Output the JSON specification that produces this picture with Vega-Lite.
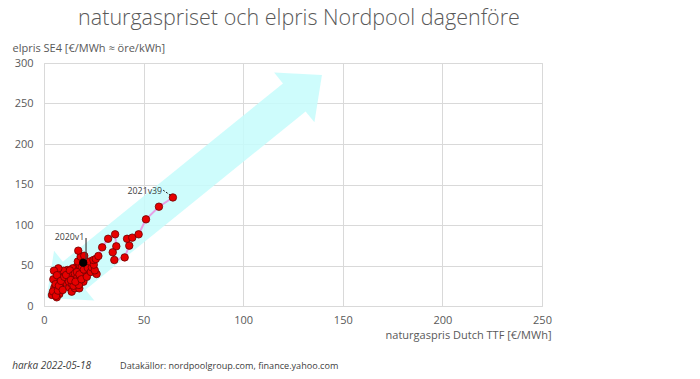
{
  "$schema": "https://vega.github.io/schema/vega-lite/v6.json",
  "width": 498,
  "height": 243,
  "autosize": {"type": "none"},
  "padding": {"left": 44, "top": 63, "right": 158, "bottom": 73},
  "background": "white",
  "title": {
    "text": "naturgaspriset och elpris Nordpool dagenföre",
    "font": "Open Sans",
    "fontWeight": 300,
    "fontSize": 21.5,
    "color": "#595959",
    "anchor": "middle",
    "frame": "group",
    "dx": 6,
    "offset": 13
  },
  "datasets": {
    "pts": [
      {"i": 1, "week": "2020v1", "gas": 19.7, "el": 53.5},
      {"i": 2, "week": "2020v2", "gas": 18.4, "el": 45},
      {"i": 3, "week": "2020v3", "gas": 17.5, "el": 40},
      {"i": 4, "week": "2020v4", "gas": 16.4, "el": 48.5},
      {"i": 5, "week": "2020v5", "gas": 14.4, "el": 46.5},
      {"i": 6, "week": "2020v6", "gas": 13.5, "el": 36},
      {"i": 7, "week": "2020v7", "gas": 12.2, "el": 35.4},
      {"i": 8, "week": "2020v8", "gas": 11.7, "el": 44.4},
      {"i": 9, "week": "2020v9", "gas": 10.5, "el": 28.8},
      {"i": 10, "week": "2020v10", "gas": 9.7, "el": 43.6},
      {"i": 11, "week": "2020v11", "gas": 8.9, "el": 35.4},
      {"i": 12, "week": "2020v12", "gas": 8.0, "el": 24.7},
      {"i": 13, "week": "2020v13", "gas": 7.2, "el": 30},
      {"i": 14, "week": "2020v14", "gas": 6.8, "el": 20},
      {"i": 15, "week": "2020v15", "gas": 7.7, "el": 14.8},
      {"i": 16, "week": "2020v16", "gas": 6.4, "el": 10.7},
      {"i": 17, "week": "2020v17", "gas": 5.5, "el": 16},
      {"i": 18, "week": "2020v18", "gas": 4.0, "el": 13.6},
      {"i": 19, "week": "2020v19", "gas": 5.2, "el": 22.6},
      {"i": 20, "week": "2020v20", "gas": 4.5, "el": 18},
      {"i": 21, "week": "2020v21", "gas": 4.7, "el": 32.9},
      {"i": 22, "week": "2020v22", "gas": 5.8, "el": 27},
      {"i": 23, "week": "2020v23", "gas": 6.0, "el": 12.5},
      {"i": 24, "week": "2020v24", "gas": 7.0, "el": 19},
      {"i": 25, "week": "2020v25", "gas": 7.2, "el": 46.5},
      {"i": 26, "week": "2020v26", "gas": 5.0, "el": 43.6},
      {"i": 27, "week": "2020v27", "gas": 6.5, "el": 38},
      {"i": 28, "week": "2020v28", "gas": 7.5, "el": 25},
      {"i": 29, "week": "2020v29", "gas": 8.5, "el": 31},
      {"i": 30, "week": "2020v30", "gas": 9.4, "el": 19.8},
      {"i": 31, "week": "2020v31", "gas": 10.2, "el": 36},
      {"i": 32, "week": "2020v32", "gas": 11.1, "el": 38.3},
      {"i": 33, "week": "2020v33", "gas": 12.7, "el": 23},
      {"i": 34, "week": "2020v34", "gas": 13.9, "el": 17.7},
      {"i": 35, "week": "2020v35", "gas": 12.5, "el": 30},
      {"i": 36, "week": "2020v36", "gas": 13.0, "el": 44},
      {"i": 37, "week": "2020v37", "gas": 14.5, "el": 38},
      {"i": 38, "week": "2020v38", "gas": 15.1, "el": 35.4},
      {"i": 39, "week": "2020v39", "gas": 14.0, "el": 27},
      {"i": 40, "week": "2020v40", "gas": 15.5, "el": 22},
      {"i": 41, "week": "2020v41", "gas": 16.4, "el": 27.2},
      {"i": 42, "week": "2020v42", "gas": 17.7, "el": 21.8},
      {"i": 43, "week": "2020v43", "gas": 16.0, "el": 31},
      {"i": 44, "week": "2020v44", "gas": 14.8, "el": 25},
      {"i": 45, "week": "2020v45", "gas": 13.5, "el": 32},
      {"i": 46, "week": "2020v46", "gas": 15.5, "el": 40},
      {"i": 47, "week": "2020v47", "gas": 16.8, "el": 36},
      {"i": 48, "week": "2020v48", "gas": 17.2, "el": 44},
      {"i": 49, "week": "2020v49", "gas": 18.4, "el": 35.4},
      {"i": 50, "week": "2020v50", "gas": 19.4, "el": 44.4},
      {"i": 51, "week": "2020v51", "gas": 18.0, "el": 50},
      {"i": 52, "week": "2020v52", "gas": 17.0, "el": 55},
      {"i": 53, "week": "2020v53", "gas": 18.4, "el": 60.9},
      {"i": 54, "week": "2021v1", "gas": 17.2, "el": 68.3},
      {"i": 55, "week": "2021v2", "gas": 20.2, "el": 62},
      {"i": 56, "week": "2021v3", "gas": 19.0, "el": 48},
      {"i": 57, "week": "2021v4", "gas": 21.8, "el": 42.4},
      {"i": 58, "week": "2021v5", "gas": 20.5, "el": 38},
      {"i": 59, "week": "2021v6", "gas": 22.5, "el": 50},
      {"i": 60, "week": "2021v7", "gas": 19.8, "el": 30},
      {"i": 61, "week": "2021v8", "gas": 17.5, "el": 26},
      {"i": 62, "week": "2021v9", "gas": 15.8, "el": 30},
      {"i": 63, "week": "2021v10", "gas": 16.5, "el": 42},
      {"i": 64, "week": "2021v11", "gas": 17.8, "el": 39},
      {"i": 65, "week": "2021v12", "gas": 18.8, "el": 33},
      {"i": 66, "week": "2021v13", "gas": 21.5, "el": 36},
      {"i": 67, "week": "2021v14", "gas": 20.0, "el": 45},
      {"i": 68, "week": "2021v15", "gas": 21.0, "el": 52},
      {"i": 69, "week": "2021v16", "gas": 22.0, "el": 47},
      {"i": 70, "week": "2021v17", "gas": 23.5, "el": 42},
      {"i": 71, "week": "2021v18", "gas": 24.0, "el": 47.7},
      {"i": 72, "week": "2021v19", "gas": 23.0, "el": 55},
      {"i": 73, "week": "2021v20", "gas": 26.4, "el": 39.5},
      {"i": 74, "week": "2021v21", "gas": 25.5, "el": 44},
      {"i": 75, "week": "2021v22", "gas": 25.0, "el": 51},
      {"i": 76, "week": "2021v23", "gas": 24.8, "el": 56.8},
      {"i": 77, "week": "2021v24", "gas": 26.0, "el": 58},
      {"i": 78, "week": "2021v25", "gas": 27.3, "el": 61.7},
      {"i": 79, "week": "2021v26", "gas": 29.2, "el": 72.4},
      {"i": 80, "week": "2021v27", "gas": 32.2, "el": 83},
      {"i": 81, "week": "2021v28", "gas": 35.7, "el": 88.5},
      {"i": 82, "week": "2021v29", "gas": 36.3, "el": 73.7},
      {"i": 83, "week": "2021v30", "gas": 34.5, "el": 66.3},
      {"i": 84, "week": "2021v31", "gas": 35.3, "el": 56.8},
      {"i": 85, "week": "2021v32", "gas": 40.5, "el": 60},
      {"i": 86, "week": "2021v33", "gas": 42.8, "el": 74.5},
      {"i": 87, "week": "2021v34", "gas": 41.7, "el": 83},
      {"i": 88, "week": "2021v35", "gas": 44.3, "el": 84.4},
      {"i": 89, "week": "2021v36", "gas": 47.5, "el": 88.5},
      {"i": 90, "week": "2021v37", "gas": 51.2, "el": 107},
      {"i": 91, "week": "2021v38", "gas": 57.7, "el": 122.6},
      {"i": 92, "week": "2021v39", "gas": 64.7, "el": 134}
    ]
  },
  "encoding": {
    "x": {
      "field": "gas",
      "type": "quantitative",
      "scale": {"domain": [0, 250], "nice": false, "zero": false},
      "axis": {
        "values": [0, 50, 100, 150, 200, 250],
        "title": "naturgaspris Dutch TTF [€/MWh]",
        "titleAlign": "right",
        "titleAnchor": "end",
        "titleX": 507,
        "titleY": 29,
        "titleBaseline": "middle",
        "labelPadding": 8,
        "labelFlush": false
      }
    },
    "y": {
      "field": "el",
      "type": "quantitative",
      "scale": {"domain": [0, 300], "nice": false, "zero": false},
      "axis": {
        "values": [0, 50, 100, 150, 200, 250, 300],
        "title": "elpris SE4 [€/MWh ≈ öre/kWh]",
        "titleAngle": 0,
        "titleAlign": "left",
        "titleBaseline": "middle",
        "titleX": -32,
        "titleY": -15,
        "labelPadding": 11
      }
    }
  },
  "layer": [
    {
      "data": {"values": [{"gas": 70.4, "el": 147.5}]},
      "mark": {
        "type": "point",
        "shape": "M177.2,0L141.6,-32L141.6,-18L-141.6,-18L-141.6,-32L-177.2,0L-141.6,32L-141.6,18L141.6,18L141.6,32Z",
        "size": 4,
        "angle": 321,
        "filled": true,
        "fill": "#c6fbfb",
        "opacity": 0.85,
        "strokeWidth": 0
      }
    },
    {
      "data": {"name": "pts"},
      "mark": {"type": "line", "color": "#e6a1e6", "strokeWidth": 2},
      "encoding": {"order": {"field": "i", "type": "quantitative"}}
    },
    {
      "data": {"name": "pts"},
      "mark": {"type": "circle", "fill": "#e60000", "stroke": "#6e0000", "strokeWidth": 0.8, "size": 56, "opacity": 1}
    },
    {
      "data": {"name": "pts"},
      "transform": [{"filter": "datum.week == '2020v1'"}],
      "mark": {"type": "circle", "fill": "#000000", "stroke": "#000000", "strokeWidth": 0.8, "size": 56, "opacity": 1}
    },
    {
      "data": {"values": [{"gas": 21.1, "el": 84, "el2": 57}]},
      "mark": {"type": "rule", "color": "#404040", "strokeWidth": 1.2},
      "encoding": {"y2": {"field": "el2"}}
    },
    {
      "data": {"values": [{"gas": 59.8, "el": 143, "gas2": 63.6, "el2": 136.5}]},
      "mark": {"type": "rule", "color": "#202020", "strokeWidth": 1, "strokeDash": [2, 1.5]},
      "encoding": {"x2": {"field": "gas2"}, "y2": {"field": "el2"}}
    },
    {
      "data": {"values": [{"gas": 20.2, "el": 85, "label": "2020v1"}, {"gas": 59.3, "el": 142.5, "label": "2021v39"}]},
      "mark": {"type": "text", "align": "right", "baseline": "middle", "font": "Open Sans", "fontSize": 8.8, "color": "#404040"},
      "encoding": {"text": {"field": "label"}}
    },
    {
      "data": {"values": [{"gas": -16, "el": -74, "label": "harka 2022-05-18"}]},
      "mark": {"type": "text", "align": "left", "baseline": "middle", "font": "Open Sans", "fontSize": 10, "fontStyle": "italic", "color": "#404040"},
      "encoding": {"text": {"field": "label"}}
    },
    {
      "data": {"values": [{"gas": 38.2, "el": -74, "label": "Datakällor: nordpoolgroup.com, finance.yahoo.com"}]},
      "mark": {"type": "text", "align": "left", "baseline": "middle", "font": "Open Sans", "fontSize": 9.1, "color": "#404040"},
      "encoding": {"text": {"field": "label"}}
    }
  ],
  "config": {
    "view": {"stroke": "#d9d9d9"},
    "axis": {
      "gridColor": "#d9d9d9",
      "domain": false,
      "ticks": false,
      "labelColor": "#595959",
      "titleColor": "#595959",
      "labelFont": "Open Sans",
      "titleFont": "Open Sans",
      "labelFontSize": 11,
      "titleFontSize": 11,
      "titleFontWeight": "normal"
    }
  }
}
